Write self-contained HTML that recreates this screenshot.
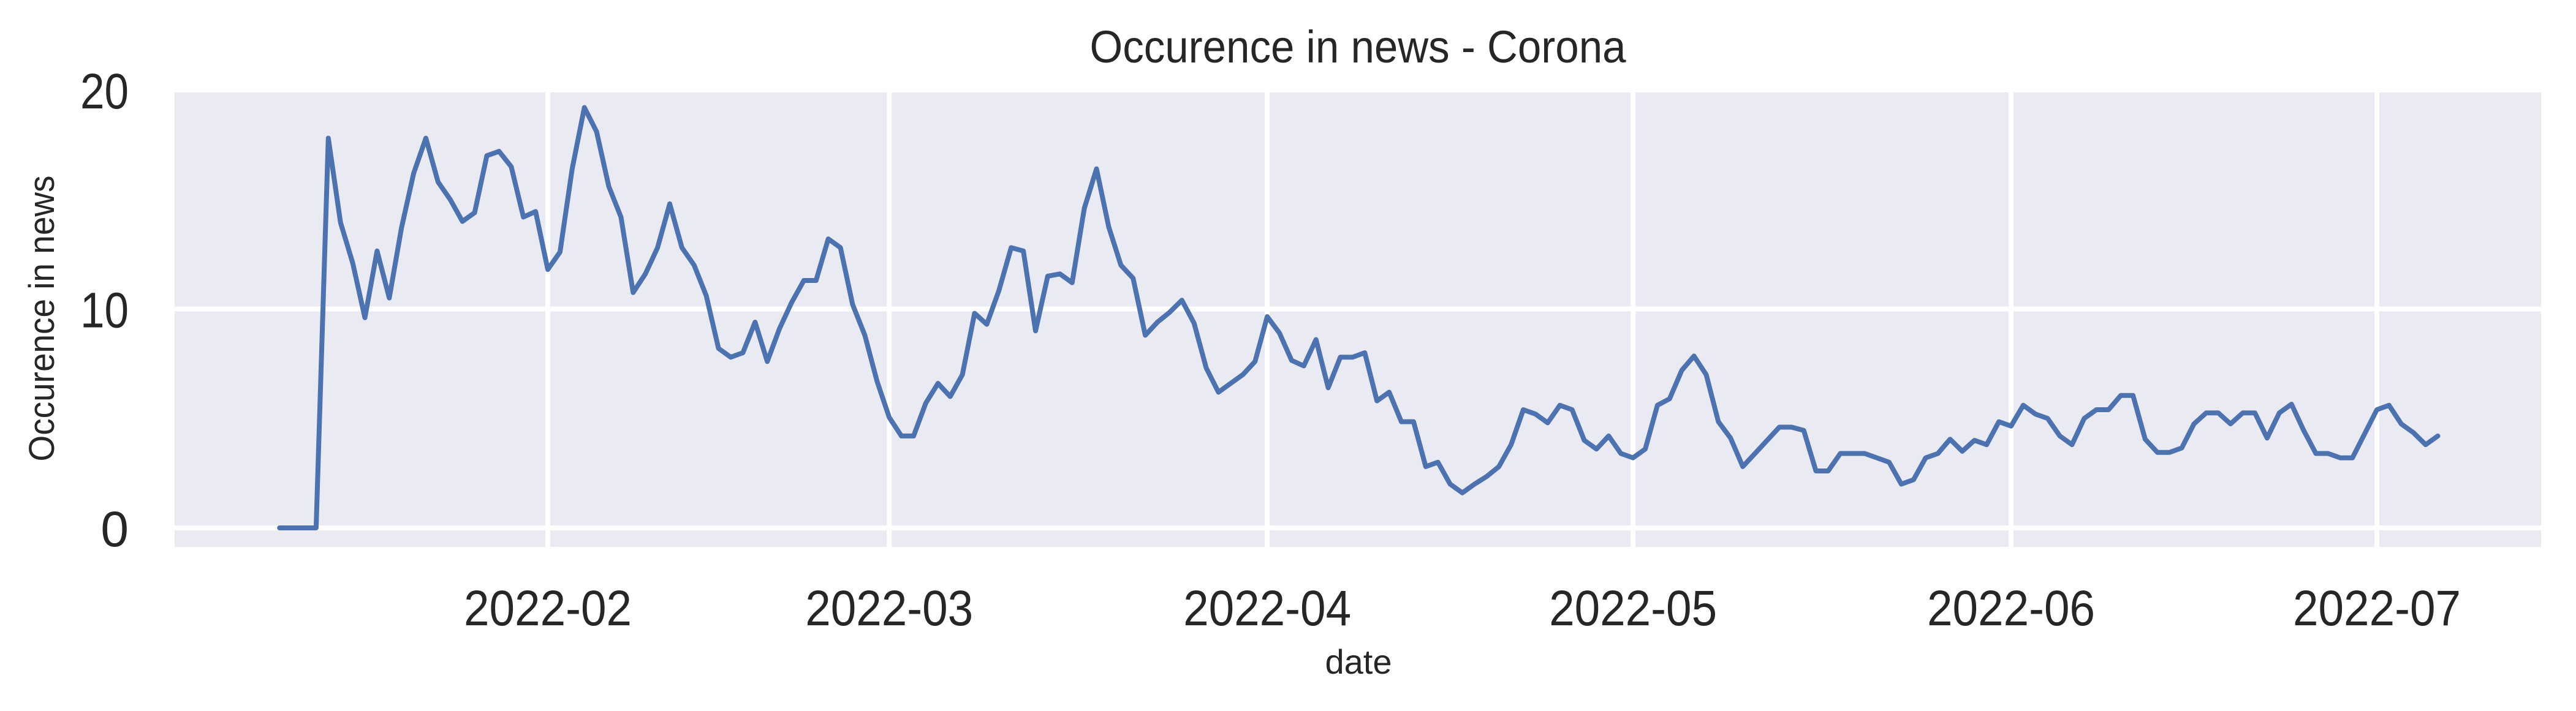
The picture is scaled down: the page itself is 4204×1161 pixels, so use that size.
<!DOCTYPE html>
<html><head><meta charset="utf-8"><style>
html,body{margin:0;padding:0;background:#fff;}
svg{display:block;font-family:"Liberation Sans",Arial,sans-serif;}
</style></head><body>
<svg id="chart" width="4204" height="1161" viewBox="0 0 4204 1161" xmlns="http://www.w3.org/2000/svg">
<rect x="285" y="150" width="3862" height="743" fill="#eaeaf2"/>
<g id="grid"></g>
<g id="ticks"></g>
<path id="series" fill="none" stroke="#4c72b0" stroke-width="8" stroke-linejoin="round" stroke-linecap="round"/>
<text x="2216" y="102" font-size="74" text-anchor="middle" fill="#262626" textLength="875" lengthAdjust="spacingAndGlyphs">Occurence in news - Corona</text>
<text x="2217" y="1100" font-size="56" text-anchor="middle" fill="#262626">date</text>
<text x="0" y="0" font-size="58" text-anchor="middle" fill="#262626" transform="translate(88,520) rotate(-90)" textLength="467" lengthAdjust="spacingAndGlyphs">Occurence in news</text>
</svg>
<script>
// data: daily values starting 2022-01-10
const startDate = "2022-01-10";
const values = [0,0,0,0,17.8,13.95,12.1,9.6,12.65,10.5,13.7,16.2,17.8,15.8,15.0,14.0,14.4,17.0,17.2,16.5,14.2,14.45,
11.8,12.6,16.4,19.2,18.1,15.6,14.2,10.75,11.6,12.8,14.8,12.8,12.0,10.6,8.2,7.8,8.0,9.4,7.6,9.1,10.3,11.3,11.3,13.2,12.8,10.2,8.8,6.7,
5.05,4.2,4.2,5.7,6.6,6.0,7.0,9.8,9.3,10.85,12.8,12.65,9.0,11.5,11.6,11.2,14.6,16.4,13.75,12.0,11.4,8.8,9.4,9.85,10.4,9.35,7.3,6.2,6.6,7.0,7.6,
9.65,8.9,7.65,7.4,8.6,6.4,7.8,7.8,8.0,5.8,6.2,4.85,4.85,2.8,3.0,2.0,1.6,2.0,2.35,2.8,3.8,5.4,5.2,4.8,5.6,5.4,4.0,3.6,4.2,3.4,
3.2,3.6,5.6,5.9,7.2,7.85,7.0,4.85,4.1,2.8,3.4,4.0,4.6,4.6,4.45,2.6,2.6,3.4,3.4,3.4,3.2,3.0,2.0,2.2,3.2,3.4,4.05,3.5,4.0,3.8,4.85,
4.65,5.6,5.2,5.0,4.2,3.8,5.0,5.4,5.4,6.05,6.05,4.05,3.45,3.45,3.65,4.75,5.25,5.25,4.75,5.25,5.25,4.1,5.25,5.65,4.45,3.4,3.4,3.2,3.2,4.3,
5.4,5.6,4.75,4.35,3.8,4.2];
const xTickDates = ["2022-02-01","2022-03-01","2022-04-01","2022-05-01","2022-06-01","2022-07-01"];
const xTickLabels = ["2022-02","2022-03","2022-04","2022-05","2022-06","2022-07"];
const yTicks = [0,10,20];

const NS="http://www.w3.org/2000/svg";
const DAY=86400000;
const feb1=Date.UTC(2022,1,1);
function dayOf(s){const p=s.split("-");return (Date.UTC(+p[0],+p[1]-1,+p[2])-feb1)/DAY;}
function xScale(d){return 894+d*19.9;}
function yScale(v){return 862-v*35.75;}
const grid=document.getElementById("grid");
const ticks=document.getElementById("ticks");
function mk(tag,attrs){const e=document.createElementNS(NS,tag);for(const k in attrs)e.setAttribute(k,attrs[k]);return e;}
yTicks.forEach(v=>{
  const y=yScale(v);
  const l=mk("line",{x1:285,x2:4147,y1:y,y2:y,stroke:"#fff","stroke-width":8});
  
  
  grid.appendChild(l);
  const t=mk("text",{x:210,y:y+30,"font-size":82,"text-anchor":"end",fill:"#262626",textLength:79,lengthAdjust:"spacingAndGlyphs"});
  if(String(v).length===1){t.removeAttribute("textLength");t.removeAttribute("lengthAdjust");}
  
  
  t.textContent=String(v);
  ticks.appendChild(t);
});
xTickDates.forEach((d,i)=>{
  const x=xScale(dayOf(d));
  const l=mk("line",{x1:x,x2:x,y1:150,y2:893,stroke:"#fff","stroke-width":8});
  
  
  grid.appendChild(l);
  const t=mk("text",{x:x,y:1021,"font-size":82,"text-anchor":"middle",fill:"#262626",textLength:274,lengthAdjust:"spacingAndGlyphs"});
  
  
  t.textContent=xTickLabels[i];
  ticks.appendChild(t);
});
const s0=dayOf(startDate);
let d="";
values.forEach((v,i)=>{d+=(i?"L":"M")+xScale(s0+i).toFixed(1)+","+yScale(v).toFixed(1);});
document.getElementById("series").setAttribute("d",d);
</script>
</body></html>
